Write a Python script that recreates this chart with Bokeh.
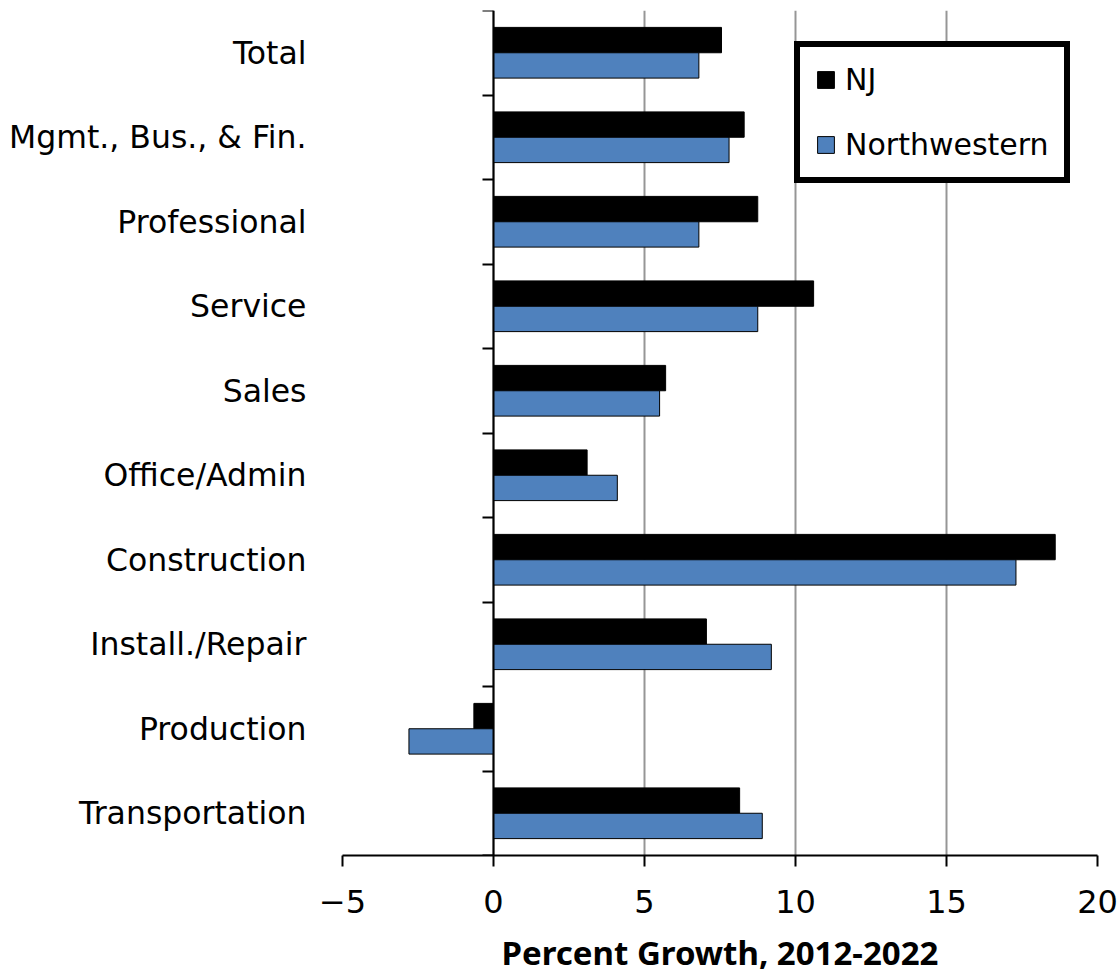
from bokeh.plotting import figure
from bokeh.models import (FixedTicker, LinearAxis, Legend, Range1d)
from bokeh.embed import file_html
from bokeh.resources import INLINE

categories = ["Total", "Mgmt., Bus., & Fin.", "Professional", "Service", "Sales",
              "Office/Admin", "Construction", "Install./Repair", "Production",
              "Transportation"]
nj = [7.55, 8.3, 8.75, 10.6, 5.7, 3.1, 18.6, 7.05, -0.65, 8.15]
northwestern = [6.8, 7.8, 6.8, 8.75, 5.5, 4.1, 17.3, 9.2, -2.8, 8.9]
x_ticks = [-5, 0, 5, 10, 15, 20]

n = len(categories)
centers = [n - 1 - i for i in range(n)]          # Total at top
nj_y = [c + 0.15 for c in centers]
nw_y = [c - 0.15 for c in centers]

FONT = "DejaVu Sans"

p = figure(width=1119, height=977, output_backend="svg", toolbar_location=None,
           x_range=Range1d(-5, 20), y_range=Range1d(-0.5, n - 0.5),
           min_border_left=342, min_border_right=22, min_border_top=10,
           min_border_bottom=122, y_axis_location=None)
p.outline_line_color = None
p.background_fill_color = "white"
p.border_fill_color = "white"

r_nj = p.hbar(y=nj_y, left=0, right=nj, height=0.3, fill_color="black",
              line_color="black", line_width=1)
r_nw = p.hbar(y=nw_y, left=0, right=northwestern, height=0.3, fill_color="#4F81BD",
              line_color="black", line_width=1)

# x axis
xa = p.xaxis[0]
xa.ticker = FixedTicker(ticks=x_ticks)
xa.axis_line_width = 2
xa.axis_line_color = "black"
xa.major_tick_line_width = 2
xa.major_tick_out = 11
xa.major_tick_in = 0
xa.minor_tick_line_color = None
xa.major_label_text_font = FONT
xa.major_label_text_font_size = "32px"
xa.major_label_text_color = "black"
xa.major_label_standoff = 23
xa.axis_label = "Percent Growth, 2012-2022"
xa.axis_label_text_font = "Noto Sans"
xa.axis_label_text_font_style = "bold"
xa.axis_label_text_font_size = "33px"
xa.axis_label_text_color = "black"
xa.axis_label_standoff = 14

p.xgrid.ticker = FixedTicker(ticks=x_ticks)
p.xgrid.grid_line_color = "#969696"
p.xgrid.grid_line_width = 2
p.ygrid.grid_line_color = None

# category labels on the left
ya = LinearAxis(ticker=FixedTicker(ticks=centers),
                major_label_overrides={c: name for c, name in zip(centers, categories)})
ya.axis_line_color = None
ya.major_tick_line_color = None
ya.minor_tick_line_color = None
ya.major_tick_out = 0
ya.major_tick_in = 0
ya.major_label_standoff = 36
ya.major_label_text_font = FONT
ya.major_label_text_font_size = "31.5px"
ya.major_label_text_color = "black"
p.add_layout(ya, "left")

# category axis line at x = 0 with ticks on category boundaries
bounds = [c - 0.5 for c in centers] + [n - 0.5]
za = LinearAxis(fixed_location=0, ticker=FixedTicker(ticks=bounds))
za.axis_line_width = 2
za.axis_line_color = "black"
za.major_tick_line_width = 2
za.major_tick_out = 11
za.major_tick_in = 0
za.minor_tick_line_color = None
za.major_label_text_font_size = "0px"
za.major_label_text_alpha = 0
p.add_layout(za, "left")

legend = Legend(items=[("NJ", [r_nj]), ("Northwestern", [r_nw])],
                location=(452, 672))
legend.border_line_color = "black"
legend.border_line_alpha = 1
legend.border_line_width = 6
legend.background_fill_color = "white"
legend.background_fill_alpha = 1
legend.label_text_font = FONT
legend.label_text_font_size = "30px"
legend.label_text_color = "black"
legend.glyph_width = 21
legend.glyph_height = 21
legend.label_standoff = 9
legend.padding = 15
legend.spacing = 30
legend.margin = 0
p.add_layout(legend, "center")

open("out.html", "w").write(file_html(p, INLINE))
